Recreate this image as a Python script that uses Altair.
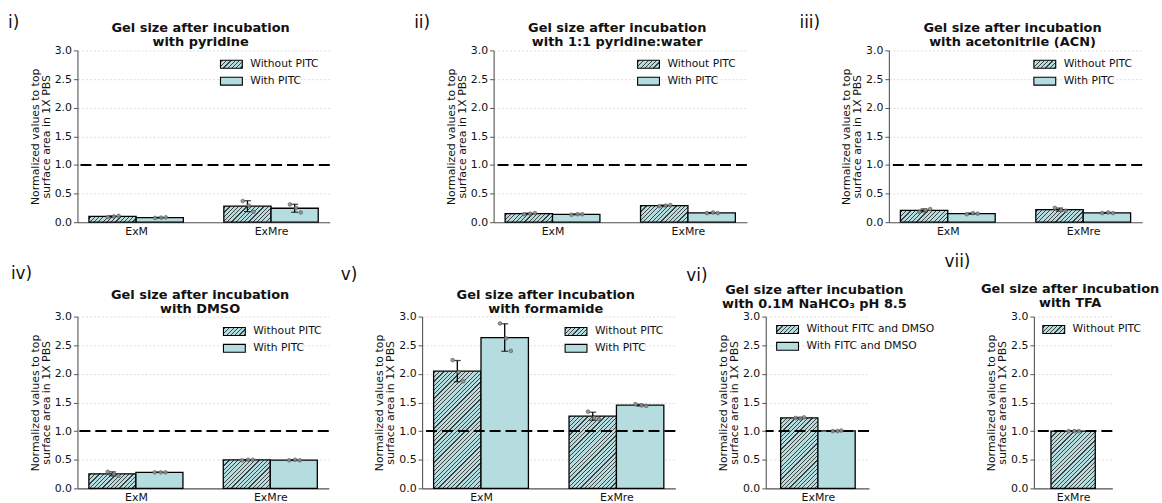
import altair as alt
import numpy as np

FONT = "DejaVu Sans"
BAR_COLOR = "#b5dde0"
HATCH_COLOR = "#404040"

# ---------------- data (three replicate gels per bar) ----------------
CATS_TWO = ["ExM", "ExMre"]
CATS_ONE = ["ExMre"]
SERIES_PITC = ["Without PITC", "With PITC"]
SERIES_FITC = ["Without FITC and DMSO", "With FITC and DMSO"]
SERIES_TFA = ["Without PITC"]

TITLE_LINE1 = "Gel size after incubation"
Y_TITLE = ["Normalized values to top", "surface area in 1X PBS"]

# each list: one entry per category, each entry = replicate values
PYRIDINE_WITHOUT = [[0.09, 0.10, 0.11], [0.37, 0.29, 0.18]]
PYRIDINE_WITH = [[0.075, 0.08, 0.085], [0.31, 0.25, 0.17]]
PYRWATER_WITHOUT = [[0.14, 0.15, 0.16], [0.28, 0.29, 0.30]]
PYRWATER_WITH = [[0.13, 0.14, 0.14], [0.16, 0.17, 0.16]]
ACN_WITHOUT = [[0.18, 0.21, 0.23], [0.25, 0.21, 0.20]]
ACN_WITH = [[0.14, 0.16, 0.15], [0.16, 0.17, 0.16]]
DMSO_WITHOUT = [[0.29, 0.25, 0.22], [0.49, 0.50, 0.50]]
DMSO_WITH = [[0.28, 0.28, 0.28], [0.49, 0.50, 0.49]]
FORMAMIDE_WITHOUT = [[2.24, 2.03, 1.87], [1.34, 1.23, 1.21]]
FORMAMIDE_WITH = [[2.88, 2.62, 2.40], [1.47, 1.45, 1.44]]
NAHCO3_WITHOUT = [[1.23, 1.22, 1.24]]
NAHCO3_WITH = [[1.00, 1.00, 1.01]]
TFA_WITHOUT = [[1.00, 1.00, 1.00]]

JITTER = [-0.035, 0.01, 0.045]   # horizontal spread of the replicate dots (x units)
BAR_WIDTH = 0.35                 # bar width in x units

PANELS = [
    ("i)", "with pyridine", CATS_TWO, SERIES_PITC, [PYRIDINE_WITHOUT, PYRIDINE_WITH]),
    ("ii)", "with 1:1 pyridine:water", CATS_TWO, SERIES_PITC, [PYRWATER_WITHOUT, PYRWATER_WITH]),
    ("iii)", "with acetonitrile (ACN)", CATS_TWO, SERIES_PITC, [ACN_WITHOUT, ACN_WITH]),
    ("iv)", "with DMSO", CATS_TWO, SERIES_PITC, [DMSO_WITHOUT, DMSO_WITH]),
    ("v)", "with formamide", CATS_TWO, SERIES_PITC, [FORMAMIDE_WITHOUT, FORMAMIDE_WITH]),
    ("vi)", "with 0.1M NaHCO\u2083 pH 8.5", CATS_ONE, SERIES_FITC, [NAHCO3_WITHOUT, NAHCO3_WITH]),
    ("vii)", "with TFA", CATS_ONE, SERIES_TFA, [TFA_WITHOUT]),
]

# ---------------- layout (pixels, relative to each plot's origin) ----------------
GEOM = [
    dict(w=254, h=173, xd=(-0.435, 1.435), frame=(-78, 332, -49, 196), tag=(-70, -28), ttl=-22.5, leg=(144, 10)),
    dict(w=255, h=173, xd=(-0.435, 1.435), frame=(-87, 303, -49, 196), tag=(-80, -28), ttl=-22.5, leg=(145, 10)),
    dict(w=255, h=173, xd=(-0.435, 1.435), frame=(-95, 267, -49, 196), tag=(-90, -28), ttl=-22.5, leg=(146, 10)),
    dict(w=253, h=173, xd=(-0.435, 1.435), frame=(-70, 260, -72, 186), tag=(-67, -43), ttl=-21.5, leg=(147, 11)),
    dict(w=255, h=173, xd=(-0.435, 1.435), frame=(-87, 263, -72, 186), tag=(-82, -42), ttl=-21.5, leg=(144, 11)),
    dict(w=104, h=173, xd=(-0.49, 0.48), frame=(-83, 179, -72, 186), tag=(-80, -41), ttl=-26.5, leg=(11, 9)),
    dict(w=79, h=173, xd=(-0.31, 0.31), frame=(-91, 129, -72, 186), tag=(-90, -55), ttl=-27.5, leg=(9, 9)),
]


def hatch(w, h, period=4.3, lw=1.2):
    """Diagonal '///' hatch as a striped linear gradient for a w x h pixel box."""
    S = w + h
    k = S / (w * w + h * h)
    stops = []
    c = period / 2.0
    while c - lw / 2 < S:
        a = round(max(0.0, (c - lw / 2) / S), 4)
        b = round(min(1.0, (c + lw / 2) / S), 4)
        stops += [
            {"offset": a, "color": BAR_COLOR},
            {"offset": a, "color": HATCH_COLOR},
            {"offset": b, "color": HATCH_COLOR},
            {"offset": b, "color": BAR_COLOR},
        ]
        c += period
    return {"gradient": "linear", "x1": 0, "y1": 0,
            "x2": round(k * w, 5), "y2": round(k * h, 5), "stops": stops}


def one_row():
    return alt.Data(values=[{"k": 0}])


def make_panel(spec, g):
    tag, sub, cats, series, values = spec
    W, H = g["w"], g["h"]
    d0, d1 = g["xd"]
    ns = len(series)
    bar_px = BAR_WIDTH * W / (d1 - d0)

    bars, dots = [], []
    for ci, cat in enumerate(cats):
        for si, ser in enumerate(series):
            vals = values[si][ci]
            m = float(np.mean(vals))
            sd = float(np.std(vals, ddof=1))
            x0 = ci + (si - ns / 2.0) * BAR_WIDTH
            xc = x0 + BAR_WIDTH / 2.0
            fill = hatch(bar_px, m / 3.0 * H) if si == 0 else BAR_COLOR
            bars.append({"x0": x0, "x1": x0 + BAR_WIDTH, "xc": xc, "mean": m,
                         "lo": m - sd, "hi": m + sd, "fill": fill})
            for k, v in enumerate(vals):
                dots.append({"x": xc + JITTER[k], "v": v})

    xs = alt.Scale(domain=list(g["xd"]), nice=False, zero=False)
    ys = alt.Scale(domain=[0, 3], nice=False)
    label_arr = "[" + ",".join("'%s'" % c for c in cats) + "]"
    xaxis = alt.Axis(values=list(range(len(cats))), labelExpr=label_arr + "[datum.value]",
                     title=None, grid=False, ticks=False, labelPadding=3, labelFontSize=11,
                     labelColor="#111", domainColor="#555", domainWidth=1.1,
                     labelFlush=False, labelOverlap=False)
    yaxis = alt.Axis(values=[0, 0.5, 1, 1.5, 2, 2.5, 3], format=".1f", title=Y_TITLE,
                     titleFontSize=11, titleFontWeight="normal", titlePadding=3,
                     titleLineHeight=11, titleColor="#111", labelFontSize=11,
                     labelPadding=2, labelColor="#111", tickSize=4, tickColor="#555",
                     domainColor="#555", domainWidth=1.1, grid=True, gridColor="#d4d4d4",
                     gridDash=[2, 2], gridWidth=0.8)

    def X(f):
        return alt.X(f, scale=xs, axis=xaxis)

    def Y(f):
        return alt.Y(f, scale=ys, axis=yaxis)

    bar_layer = alt.Chart(alt.Data(values=bars)).mark_rect(
        stroke="black", strokeWidth=1.3
    ).encode(
        x=X("x0:Q"), x2="x1:Q", y=Y("mean:Q"), y2=alt.Y2Datum(0),
        fill=alt.Fill("fill:N", scale=None),
    )

    ref_line = alt.Chart(one_row()).mark_rule(
        color="black", strokeWidth=2, strokeDash=[11, 5]
    ).encode(y=alt.YDatum(1.0, type="quantitative", scale=ys, axis=yaxis))

    err = alt.Chart(alt.Data(values=bars)).mark_rule(color="black", strokeWidth=1.3).encode(
        x=X("xc:Q"), y=Y("lo:Q"), y2="hi:Q",
    )
    cap_lo = alt.Chart(alt.Data(values=bars)).mark_tick(
        orient="horizontal", size=7, thickness=1.3, color="black"
    ).encode(x=X("xc:Q"), y=Y("lo:Q"))
    cap_hi = alt.Chart(alt.Data(values=bars)).mark_tick(
        orient="horizontal", size=7, thickness=1.3, color="black"
    ).encode(x=X("xc:Q"), y=Y("hi:Q"))

    dot_layer = alt.Chart(alt.Data(values=dots)).mark_circle(
        size=14, color="#8f8f8f", opacity=0.9, stroke="#555555", strokeWidth=0.7
    ).encode(x=X("x:Q"), y=Y("v:Q"))

    layers = [bar_layer, ref_line, err, cap_lo, cap_hi, dot_layer]

    # legend (drawn by hand so the hatched swatch can be shown)
    lx, ly = g["leg"]
    for si, ser in enumerate(series):
        sy = ly + si * 17
        sw_fill = hatch(22, 8) if si == 0 else BAR_COLOR
        layers.append(
            alt.Chart(alt.Data(values=[{"fill": sw_fill}])).mark_rect(
                stroke="black", strokeWidth=1.1
            ).encode(x=alt.value(lx), x2=alt.value(lx + 22), y=alt.value(sy),
                     y2=alt.value(sy + 8), fill=alt.Fill("fill:N", scale=None))
        )
        layers.append(
            alt.Chart(one_row()).mark_text(
                align="left", baseline="middle", fontSize=10.8, font=FONT, color="#111"
            ).encode(x=alt.value(lx + 30), y=alt.value(sy + 4), text=alt.value(ser))
        )

    # panel title (two lines, bold)
    layers.append(
        alt.Chart(one_row()).mark_text(
            align="center", baseline="middle", fontSize=13, fontWeight="bold",
            font=FONT, color="#111", lineHeight=14
        ).encode(x=alt.value(W / 2.0 - 3), y=alt.value(g["ttl"]),
                 text=alt.value([TITLE_LINE1, sub]))
    )

    # panel tag
    tx, ty = g["tag"]
    layers.append(
        alt.Chart(one_row()).mark_text(
            align="left", baseline="middle", fontSize=17, font=FONT, color="#111"
        ).encode(x=alt.value(tx), y=alt.value(ty), text=alt.value(tag))
    )

    # invisible frame fixing each panel's footprint in the grid
    fx0, fx1, fy0, fy1 = g["frame"]
    layers.append(
        alt.Chart(one_row()).mark_rect(opacity=0).encode(
            x=alt.value(fx0), x2=alt.value(fx1), y=alt.value(fy0), y2=alt.value(fy1)
        )
    )

    return alt.layer(*layers).properties(width=W, height=H)


charts = [make_panel(s, g) for s, g in zip(PANELS, GEOM)]
row1 = alt.hconcat(*charts[:3], spacing=0)
row2 = alt.hconcat(*charts[3:], spacing=0)

chart = alt.vconcat(row1, row2, spacing=0).properties(
    padding=0, background="white"
).configure(font=FONT).configure_view(stroke=None)

chart.save("out.html", embed_options={"renderer": "svg", "actions": False})
